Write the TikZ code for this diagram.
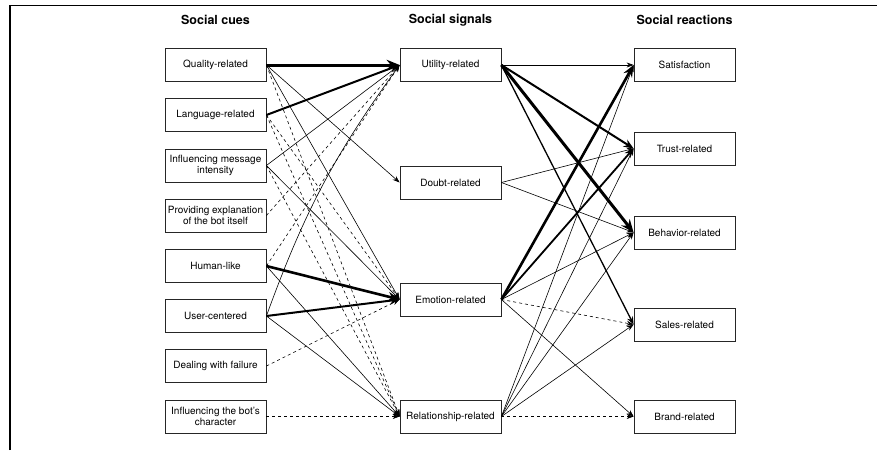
\documentclass[tikz,border=0pt]{standalone}
\usepackage{fontspec}
\setmainfont{TeX Gyre Heros}
\usetikzlibrary{arrows.meta}

\begin{document}
\begin{tikzpicture}[x=1pt,y=-1pt,
  box/.style={draw=black!85,line width=0.8pt,minimum width=101pt,minimum height=33pt,inner sep=1pt,align=center,font=\fontsize{10}{11}\selectfont},
  head/.style={font=\bfseries\fontsize{12.5}{14}\selectfont},
  link/.style={-{Stealth[length=7pt,width=5pt]},line width=0.6pt},
  maybe/.style={link,dash pattern=on 3pt off 3pt},
  heavy/.style={-{Stealth[length=4pt 3,width=3pt 2.5]},line width=#1}]
\useasboundingbox (0,0) rectangle (877,450);
\draw[line width=1.7pt] (10,450) -- (10,5.5) -- (165,5.5);
\draw[line width=0.6pt] (165,5) -- (735,5);
\draw[line width=1.7pt] (735,5.5) -- (877,5.5);
\node[head] (cues) at (215.5,20) {Social cues};
\node[head] (signals) at (450.5,20) {Social signals};
\node[head] (reactions) at (684.5,20) {Social reactions};
\node[box] (quality) at (215.5,65) {Quality-related};
\node[box] (language) at (215.5,115) {Language-related};
\node[box] (intensity) at (215.5,165.5) {Influencing message\\intensity};
\node[box] (explanation) at (215.5,215.5) {Providing explanation\\of the bot itself};
\node[box] (humanlike) at (215.5,266) {Human-like};
\node[box] (usercentered) at (215.5,316) {User-centered};
\node[box] (failure) at (215.5,366) {Dealing with failure};
\node[box] (character) at (215.5,416.5) {Influencing the bot's\\character};
\node[box] (utility) at (450.5,65) {Utility-related};
\node[box] (doubt) at (450.5,182.5) {Doubt-related};
\node[box] (emotion) at (450.5,299.5) {Emotion-related};
\node[box] (relationship) at (450.5,416.5) {Relationship-related};
\node[box] (satisfaction) at (684.5,65) {Satisfaction};
\node[box] (trust) at (684.5,148.5) {Trust-related};
\node[box] (behavior) at (684.5,232.5) {Behavior-related};
\node[box] (sales) at (684.5,324.5) {Sales-related};
\node[box] (brand) at (684.5,416.5) {Brand-related};
\draw[heavy=3pt] (quality.east) -- (utility.west);
\draw[heavy=2pt] (language.east) -- (utility.west);
\draw[heavy=2.6pt] (humanlike.east) -- (emotion.west);
\draw[heavy=2pt] (usercentered.east) -- (emotion.west);
\draw[link] (usercentered.east) to[bend left=8] (utility.west);
\foreach \a/\b in {quality/doubt,quality/emotion,intensity/utility,intensity/emotion,humanlike/relationship,usercentered/relationship}
  \draw[link] (\a.east) -- (\b.west);
\foreach \a/\b in {quality/relationship,language/emotion,language/relationship,intensity/relationship,explanation/utility,humanlike/utility,failure/emotion,character/relationship}
  \draw[maybe] (\a.east) -- (\b.west);
\draw[heavy=3pt] (utility.east) -- (behavior.west);
\draw[heavy=2pt] (utility.east) -- (trust.west);
\draw[heavy=1.3pt] (utility.east) -- (sales.west);
\draw[heavy=2.6pt] (emotion.east) -- (satisfaction.west);
\draw[heavy=1.8pt] (emotion.east) -- (trust.west);
\foreach \a/\b in {utility/satisfaction,doubt/trust,doubt/behavior,emotion/behavior,emotion/brand,relationship/satisfaction,relationship/trust,relationship/behavior,relationship/sales}
  \draw[link] (\a.east) -- (\b.west);
\foreach \a/\b in {emotion/sales,relationship/brand}
  \draw[maybe] (\a.east) -- (\b.west);
\end{tikzpicture}
\end{document}
